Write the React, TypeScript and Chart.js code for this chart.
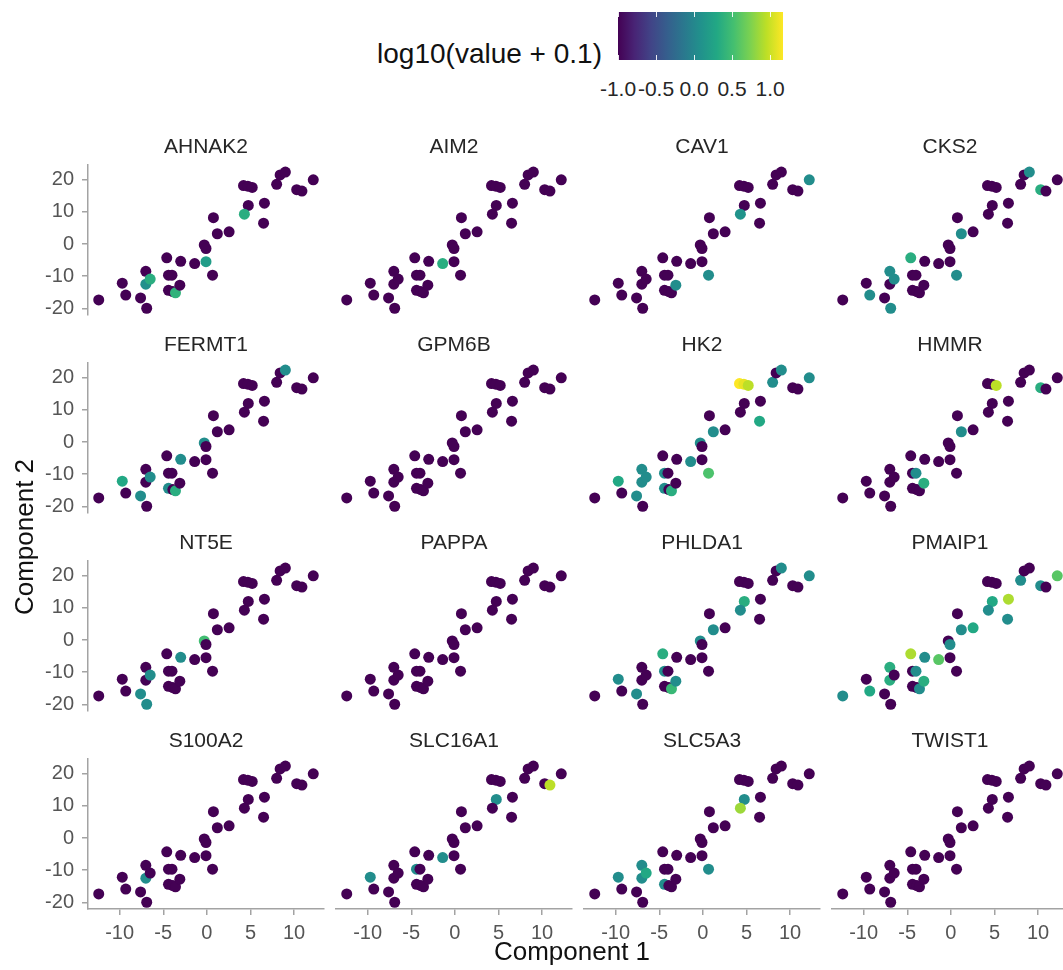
import React, { useEffect, useRef } from "react";
import { Chart, registerables } from "chart.js";

Chart.register(...registerables);

// ---------- data ----------
// cell positions (same embedding in every panel)
const compX = [
  -12.4, -9.7, -9.3, -7.6, -6.9, -7.0, -7.0, -6.5, -4.6, -4.4, -4.0, -4.4, -3.9,
  -3.6, -3.1, -3.0, -1.4, -0.1, -0.3, -0.1, 0.65, 0.75, 1.2, 2.55, 4.2, 4.7, 5.2,
  4.75, 4.3, 6.6, 6.5, 8.0, 8.4, 9.0, 10.3, 10.9, 12.2,
];
const compY = [
  -17.4, -12.2, -15.9, -16.8, -20.0, -8.5, -12.5, -10.9, -4.3, -9.7, -9.7, -14.4,
  -14.8, -15.2, -12.8, -5.4, -6.1, -5.5, -0.3, -1.4, -9.7, 8.2, 3.2, 3.8, 18.2,
  18.0, 17.6, 12.0, 9.3, 12.7, 6.5, 18.6, 21.5, 22.4, 16.9, 16.5, 20.0,
];

const genes = [
  "AHNAK2", "AIM2", "CAV1", "CKS2",
  "FERMT1", "GPM6B", "HK2", "HMMR",
  "NT5E", "PAPPA", "PHLDA1", "PMAIP1",
  "S100A2", "SLC16A1", "SLC5A3", "TWIST1",
];

// expressed cells per gene: [cell index, log10(value + 0.1)]; all other cells are -1 (value 0)
const AHNAK2 = [[6, 0.08], [7, 0.35], [13, 0.4], [17, 0.2], [28, 0.35]];
const AIM2 = [[16, 0.35]];
const CAV1 = [[14, 0.05], [20, 0.05], [28, 0.1], [36, 0.05]];
const CKS2 = [[2, 0.05], [4, 0.05], [5, 0.05], [7, 0.05], [8, 0.35], [20, 0.05], [22, 0.05], [33, 0.05], [34, 0.35]];
const FERMT1 = [[1, 0.3], [3, 0.05], [7, 0.05], [11, 0.05], [13, 0.35], [15, 0.05], [18, 0.05], [33, 0.05]];
const GPM6B: number[][] = [];
const HK2 = [[1, 0.3], [3, 0.05], [5, 0.05], [6, 0.05], [7, 0.05], [9, 0.05], [11, 0.05], [13, 0.35], [16, 0.05], [18, 0.05], [20, 0.55], [22, 0.05], [24, 1.17], [25, 1.1], [26, 0.95], [30, 0.3], [31, 0.05], [33, 0.05], [36, 0.05]];
const HMMR = [[10, 0.05], [14, 0.35], [22, 0.05], [26, 0.95], [34, 0.35]];
const NT5E = [[3, 0.05], [4, 0.05], [7, 0.05], [15, 0.05], [18, 0.5]];
const PAPPA: number[][] = [];
const PHLDA1 = [[1, 0.05], [3, 0.05], [8, 0.35], [9, 0.05], [13, 0.45], [14, 0.05], [18, 0.05], [22, 0.05], [27, 0.35], [28, 0.05], [33, 0.05], [36, 0.05]];
const PMAIP1 = [[0, 0.05], [2, 0.3], [5, 0.35], [6, 0.35], [8, 0.9], [10, 0.05], [13, 0.05], [14, 0.35], [15, 0.05], [16, 0.6], [19, 0.05], [22, 0.05], [23, 0.3], [27, 0.3], [28, 0.05], [29, 0.9], [30, 0.05], [31, 0.05], [34, 0.05], [36, 0.6]];
const S100A2 = [[6, 0.05]];
const SLC16A1 = [[1, 0.05], [9, 0.05], [16, 0.05], [27, 0.05], [35, 0.95]];
const SLC5A3 = [[1, 0.05], [5, 0.05], [6, 0.05], [7, 0.3], [11, 0.05], [20, 0.05], [27, 0.05], [28, 0.85]];
const TWIST1: number[][] = [];

const geneExpr = [
  AHNAK2, AIM2, CAV1, CKS2, FERMT1, GPM6B, HK2, HMMR,
  NT5E, PAPPA, PHLDA1, PMAIP1, S100A2, SLC16A1, SLC5A3, TWIST1,
];

const xTicks = [-10, -5, 0, 5, 10];
const yTicks = [-20, -10, 0, 10, 20];
const legendTicks = [-1.0, -0.5, 0.0, 0.5, 1.0];
const legendTickLabels = ["-1.0", "-0.5", "0.0", "0.5", "1.0"];

// ---------- styles / layout ----------
const FONT = '"Liberation Sans", Arial, Helvetica, sans-serif';
const X_MIN = -13.63, X_MAX = 13.43, Y_MIN = -22.1, Y_MAX = 24.6;
const C_MIN = -1, C_MAX = 1.17;
const PLOT_LEFT = [88, 336, 584, 832];
const PLOT_TOP = [165, 363, 561, 759];
const PW = 236, PH = 150;
const TITLE_H = 30, YAXIS_W = 60, XAXIS_H = 50, PAD = 6;
const AXIS_COLOR = "#a3a3a3";
const TICK_COLOR = "#555555";

const VIRIDIS = [
  "#440154", "#482475", "#414487", "#355F8D", "#2A788E", "#21918C",
  "#22A884", "#44BF70", "#7AD151", "#BDDF26", "#FDE725",
];
function hexToRgb(h: string) {
  return [parseInt(h.slice(1, 3), 16), parseInt(h.slice(3, 5), 16), parseInt(h.slice(5, 7), 16)];
}
function viridis(t: number) {
  const c = Math.max(0, Math.min(1, t)) * (VIRIDIS.length - 1);
  const i = Math.min(VIRIDIS.length - 2, Math.floor(c));
  const f = c - i;
  const a = hexToRgb(VIRIDIS[i]), b = hexToRgb(VIRIDIS[i + 1]);
  const r = a.map((v, k) => Math.round(v + (b[k] - v) * f));
  return `rgb(${r[0]},${r[1]},${r[2]})`;
}

function zeroPad(s: any) {
  s.paddingTop = 0; s.paddingBottom = 0; s.paddingLeft = 0; s.paddingRight = 0;
}

function Panel({ idx }: { idx: number }) {
  const ref = useRef<HTMLCanvasElement>(null);
  const row = Math.floor(idx / 4), col = idx % 4;
  const showY = col === 0, showX = row === 3;
  const left = PLOT_LEFT[col] - PAD - (showY ? YAXIS_W : 0);
  const top = PLOT_TOP[row] - TITLE_H;
  const width = PW + 2 * PAD + (showY ? YAXIS_W : 0);
  const height = TITLE_H + PH + (showX ? XAXIS_H : PAD);

  useEffect(() => {
    const vals = compX.map(() => -1);
    geneExpr[idx].forEach(([i, v]) => { vals[i] = v; });
    const data = compX.map((x, i) => ({ x, y: compY[i] }));
    const colors = vals.map((v) => viridis((v - C_MIN) / (C_MAX - C_MIN)));
    const tickFont = { family: FONT, size: 20 };
    const chart = new Chart(ref.current as HTMLCanvasElement, {
      type: "scatter",
      data: {
        datasets: [{
          data,
          backgroundColor: colors,
          borderWidth: 0,
          pointRadius: 5.5,
          pointHoverRadius: 5.5,
          clip: false as any,
        }],
      },
      options: {
        animation: false,
        responsive: false,
        maintainAspectRatio: false,
        events: [],
        layout: { padding: { left: PAD, right: PAD, top: 0, bottom: showX ? 0 : PAD } },
        plugins: {
          legend: { display: false },
          tooltip: { enabled: false },
          title: {
            display: true,
            text: genes[idx],
            fullSize: false,
            color: "#262626",
            font: { family: FONT, size: 21, weight: "normal", lineHeight: "24px" as any },
            padding: { top: 0, bottom: 6 },
          },
        },
        scales: {
          x: {
            type: "linear",
            min: X_MIN,
            max: X_MAX,
            display: showX,
            afterBuildTicks: (s: any) => { s.ticks = xTicks.map((v) => ({ value: v })); },
            afterFit: (s: any) => { zeroPad(s); if (showX) s.height = XAXIS_H; },
            grid: { display: true, drawOnChartArea: false, drawTicks: true, tickLength: 6, color: AXIS_COLOR, lineWidth: 1.5 },
            border: { display: true, color: AXIS_COLOR, width: 1.5 },
            ticks: { color: TICK_COLOR, font: tickFont, padding: 6, maxRotation: 0, autoSkip: false },
          },
          y: {
            type: "linear",
            min: Y_MIN,
            max: Y_MAX,
            display: showY,
            afterBuildTicks: (s: any) => { s.ticks = yTicks.map((v) => ({ value: v })); },
            afterFit: (s: any) => { zeroPad(s); if (showY) s.width = YAXIS_W; },
            grid: { display: true, drawOnChartArea: false, drawTicks: true, tickLength: 6, color: AXIS_COLOR, lineWidth: 1.5 },
            border: { display: true, color: AXIS_COLOR, width: 1.5 },
            ticks: { color: TICK_COLOR, font: tickFont, padding: 8, autoSkip: false },
          },
        },
      },
    });
    return () => chart.destroy();
  }, [idx]);

  return (
    <canvas
      ref={ref}
      width={width}
      height={height}
      style={{ position: "absolute", left, top, width, height }}
    />
  );
}

const BAR_L = 618, BAR_T = 12, BAR_W = 165, BAR_H = 48;
function legendX(v: number) {
  return BAR_L + ((v - C_MIN) / (C_MAX - C_MIN)) * BAR_W;
}

function ColorBar() {
  const ref = useRef<HTMLCanvasElement>(null);
  useEffect(() => {
    const cv = ref.current as HTMLCanvasElement;
    const ctx = cv.getContext("2d") as CanvasRenderingContext2D;
    const g = ctx.createLinearGradient(0, 0, BAR_W, 0);
    VIRIDIS.forEach((c, i) => g.addColorStop(i / (VIRIDIS.length - 1), c));
    ctx.fillStyle = g;
    ctx.fillRect(0, 0, BAR_W, BAR_H);
    ctx.strokeStyle = "rgba(255,255,255,0.9)";
    ctx.lineWidth = 1;
    legendTicks.forEach((v) => {
      const x = Math.round(legendX(v) - BAR_L) + 0.5;
      ctx.beginPath();
      ctx.moveTo(x, 0); ctx.lineTo(x, 5);
      ctx.moveTo(x, BAR_H - 5); ctx.lineTo(x, BAR_H);
      ctx.stroke();
    });
  }, []);
  return (
    <canvas ref={ref} width={BAR_W} height={BAR_H}
      style={{ position: "absolute", left: BAR_L, top: BAR_T, width: BAR_W, height: BAR_H }} />
  );
}

export default function App() {
  return (
    <div style={{ position: "absolute", left: 0, top: 0, width: 1063, height: 970, overflow: "hidden", background: "#fff", fontFamily: FONT }}>
      <div style={{ position: "absolute", left: 250, top: 40, width: 352, textAlign: "right", fontSize: 28, lineHeight: "28px", color: "#111", whiteSpace: "nowrap" }}>
        log10(value + 0.1)
      </div>
      <ColorBar />
      {legendTicks.map((v, i) => (
        <div key={i} style={{ position: "absolute", left: legendX(v) - 30, top: 77, width: 60, textAlign: "center", fontSize: 21, lineHeight: "24px", color: "#262626", whiteSpace: "nowrap" }}>
          {legendTickLabels[i]}
        </div>
      ))}
      {genes.map((_, i) => <Panel key={i} idx={i} />)}
      <div style={{ position: "absolute", left: 422, top: 936, width: 300, textAlign: "center", fontSize: 26, lineHeight: "30px", color: "#111", whiteSpace: "nowrap" }}>
        Component 1
      </div>
      <div style={{ position: "absolute", left: -126, top: 522, width: 300, height: 30, textAlign: "center", fontSize: 26, lineHeight: "30px", color: "#111", whiteSpace: "nowrap", transform: "rotate(-90deg)", transformOrigin: "50% 50%" }}>
        Component 2
      </div>
    </div>
  );
}
